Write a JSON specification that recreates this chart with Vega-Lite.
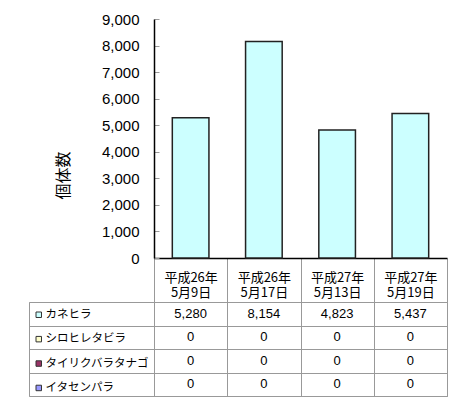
{
  "$schema": "https://vega.github.io/schema/vega-lite/v6.json",
  "autosize": {"type": "pad"},
  "padding": {"left": 28, "top": 12, "right": 10, "bottom": 5},
  "background": "white",
  "datasets": {
    "d": [
      {"date": "平成26年\n5月9日", "species": "カネヒラ", "n": 5280},
      {"date": "平成26年\n5月17日", "species": "カネヒラ", "n": 8154},
      {"date": "平成27年\n5月13日", "species": "カネヒラ", "n": 4823},
      {"date": "平成27年\n5月19日", "species": "カネヒラ", "n": 5437},
      {"date": "平成26年\n5月9日", "species": "シロヒレタビラ", "n": 0},
      {"date": "平成26年\n5月17日", "species": "シロヒレタビラ", "n": 0},
      {"date": "平成27年\n5月13日", "species": "シロヒレタビラ", "n": 0},
      {"date": "平成27年\n5月19日", "species": "シロヒレタビラ", "n": 0},
      {"date": "平成26年\n5月9日", "species": "タイリクバラタナゴ", "n": 0},
      {"date": "平成26年\n5月17日", "species": "タイリクバラタナゴ", "n": 0},
      {"date": "平成27年\n5月13日", "species": "タイリクバラタナゴ", "n": 0},
      {"date": "平成27年\n5月19日", "species": "タイリクバラタナゴ", "n": 0},
      {"date": "平成26年\n5月9日", "species": "イタセンパラ", "n": 0},
      {"date": "平成26年\n5月17日", "species": "イタセンパラ", "n": 0},
      {"date": "平成27年\n5月13日", "species": "イタセンパラ", "n": 0},
      {"date": "平成27年\n5月19日", "species": "イタセンパラ", "n": 0}
    ]
  },
  "columns": 2,
  "spacing": {"row": 44, "column": 0},
  "bounds": "flush",
  "resolve": {"legend": {"color": "independent"}},
  "config": {"view": {"stroke": null}},
  "concat": [
    {
      "width": 125,
      "height": 239,
      "data": {"values": [{}]},
      "mark": {"type": "text", "text": ""},
      "encoding": {}
    },
    {
      "width": 293,
      "height": 239,
      "data": {"name": "d"},
      "transform": [{"filter": "datum.species === 'カネヒラ'"}],
      "mark": {"type": "bar", "width": {"band": 0.5}, "stroke": "#222", "strokeWidth": 1.5},
      "encoding": {
        "x": {
          "field": "date", "type": "nominal", "sort": null,
          "scale": {"paddingInner": 0, "paddingOuter": 0},
          "axis": {
            "title": null, "labelAngle": 0,
            "labelExpr": "split(datum.label, '\\n')",
            "labelFont": "Noto Sans CJK JP", "labelFontSize": 13, "labelLineHeight": 15,
            "labelColor": "#000", "tickBand": "extent", "tickSize": 44, "tickColor": "#999",
            "labelPadding": -31, "domainColor": "#000", "domainWidth": 1.5
          }
        },
        "y": {
          "field": "n", "type": "quantitative",
          "scale": {"domain": [0, 9000], "nice": false},
          "axis": {
            "values": [0, 1000, 2000, 3000, 4000, 5000, 6000, 7000, 8000, 9000],
            "format": ",.0f", "grid": false,
            "title": "個体数", "titleFont": "Noto Sans CJK JP", "titleFontSize": 16,
            "titleFontWeight": "normal", "titleColor": "#000",
            "titleX": -91, "titleY": 156, "titleAngle": -90, "titleAlign": "center", "titleBaseline": "middle",
            "labelFont": "Liberation Sans", "labelFontSize": 15, "labelColor": "#000",
            "tickSize": -5, "tickColor": "#999", "labelPadding": 20,
            "domainColor": "#000", "domainWidth": 1.5
          }
        },
        "color": {
          "field": "species", "type": "nominal",
          "scale": {
            "domain": ["カネヒラ", "シロヒレタビラ", "タイリクバラタナゴ", "イタセンパラ"],
            "range": ["#CCFFFF", "#FFFFCC", "#993366", "#9999FF"]
          },
          "legend": {
            "orient": "none", "legendX": -121, "legendY": 290, "title": null,
            "symbolType": "square", "symbolSize": 30, "symbolStrokeColor": "#333", "symbolStrokeWidth": 1,
            "symbolOpacity": 1,
            "labelFont": "Noto Sans CJK JP", "labelFontSize": 11.5, "labelColor": "#000",
            "rowPadding": 11.4, "labelOffset": 1, "padding": 0
          }
        }
      }
    },
    {
      "width": 125,
      "height": 94,
      "data": {"name": "d"},
      "mark": {"type": "text", "text": ""},
      "encoding": {
        "y": {
          "field": "species", "type": "nominal", "sort": null,
          "scale": {"paddingInner": 0, "paddingOuter": 0},
          "axis": {"title": null, "labels": false, "ticks": false, "domain": false, "grid": true, "gridColor": "#999", "tickBand": "extent"}
        }
      },
      "view": {"stroke": "#999"}
    },
    {
      "width": 293,
      "height": 94,
      "data": {"name": "d"},
      "mark": {"type": "text", "font": "Liberation Sans", "fontSize": 13, "color": "#000"},
      "encoding": {
        "x": {
          "field": "date", "type": "nominal", "sort": null,
          "scale": {"paddingInner": 0, "paddingOuter": 0},
          "axis": {"title": null, "labels": false, "ticks": false, "domain": false, "grid": true, "gridColor": "#999", "tickBand": "extent"}
        },
        "y": {
          "field": "species", "type": "nominal", "sort": null,
          "scale": {"paddingInner": 0, "paddingOuter": 0},
          "axis": {"title": null, "labels": false, "ticks": false, "domain": false, "grid": true, "gridColor": "#999", "tickBand": "extent"}
        },
        "text": {"field": "n", "type": "quantitative", "format": ",.0f"}
      },
      "view": {"stroke": "#999"}
    }
  ]
}
